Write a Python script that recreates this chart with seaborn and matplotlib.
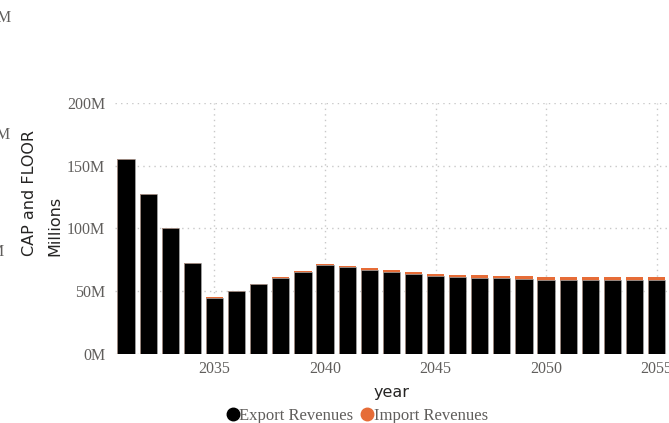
import matplotlib
matplotlib.use("Agg")
import matplotlib.pyplot as plt
from matplotlib.lines import Line2D
import seaborn as sns
import pandas as pd

# ---- data (values in millions) ----
years = list(range(2031, 2056))
export_revenues = [155.5, 127.8, 100.5, 72.8, 45.0, 50.0, 55.4, 60.2, 65.4, 70.7,
                   69.1, 66.9, 65.2, 63.5, 61.8, 61.2, 60.8, 60.2, 59.9, 59.0,
                   58.9, 58.9, 58.9, 58.9, 58.9]
import_revenues = [0.0, 0.0, 0.0, 0.0, 0.2, 0.5, 0.6, 0.8, 1.0, 1.2,
                   1.3, 1.4, 1.5, 1.6, 1.7, 1.8, 1.9, 2.0, 2.0, 2.1,
                   2.1, 2.1, 2.1, 2.1, 2.1]
y_ticks = [0, 50, 100, 150, 200]
y_tick_labels = ["0M", "50M", "100M", "150M", "200M"]
x_ticks = [2035, 2040, 2045, 2050, 2055]
series_names = ["Export Revenues", "Import Revenues"]
series_colors = ["#000000", "#E66C37"]

df = pd.DataFrame({"year": years, "export": export_revenues, "import": import_revenues})
df["total"] = df["export"] + df["import"]

sns.set_theme(style="white")
W, H = 669, 423
fig = plt.figure(figsize=(W / 100, H / 100), dpi=100)
ax = fig.add_axes([115 / W, (H - 354) / H, (W - 115) / W, 251 / H])

sns.barplot(data=df, x="year", y="total", native_scale=True, color=series_colors[1],
            saturation=1, width=0.78, ax=ax, edgecolor="none", zorder=2)
sns.barplot(data=df, x="year", y="export", native_scale=True, color=series_colors[0],
            saturation=1, width=0.78, ax=ax, edgecolor="#aaaaaa", linewidth=0.5, zorder=3)

ax.set_xlim(2030.5, 2055.56)
ax.set_ylim(0, 200)
ax.set_yticks(y_ticks)
ax.set_yticklabels(y_tick_labels)
ax.set_xticks(x_ticks)
ax.set_xticklabels([str(x) for x in x_ticks])

serif = ["Liberation Serif", "DejaVu Serif"]
tick_color = "#605E5C"
for lab in ax.get_xticklabels() + ax.get_yticklabels():
    lab.set_fontfamily(serif)
    lab.set_fontsize(11.5)
    lab.set_color(tick_color)
ax.tick_params(axis="y", length=0, pad=7)
ax.tick_params(axis="x", length=0, pad=5)

ax.grid(True, axis="both", linestyle=(0, (1, 3)), color="#c8c8c8", linewidth=1, zorder=0)
ax.set_axisbelow(True)
for s in ax.spines.values():
    s.set_visible(False)

ax.set_xlabel("year", fontsize=11.5, color="#252423", labelpad=6)
ax.set_ylabel("")

fig.text(30 / W, (H - 256) / H, "CAP and FLOOR", rotation=90, ha="center", va="bottom",
         fontsize=11.5, color="#252423")
fig.text(55 / W, (H - 256) / H, "Millions", rotation=90, ha="center", va="bottom",
         fontsize=11.5, color="#252423")

# stray clipped labels at the left edge
for xr, yc, t in [(11, 18, "200M"), (11, 135, "150M"), (5, 252, "100M")]:
    fig.text(xr / W, (H - yc) / H, t, ha="right", va="center", fontsize=11.5,
             color=tick_color, fontfamily=serif)

handles = [Line2D([0], [0], marker="o", linestyle="", markersize=9,
                  markerfacecolor=c, markeredgecolor=c) for c in series_colors]
leg = fig.legend(handles, series_names, loc="center", bbox_to_anchor=(356 / W, (H - 416) / H),
                 ncol=2, frameon=False, handletextpad=-0.1, columnspacing=0.3,
                 handlelength=1.0, prop={"family": serif, "size": 12})
for t in leg.get_texts():
    t.set_color(tick_color)

fig.savefig("out.png", dpi=100)
